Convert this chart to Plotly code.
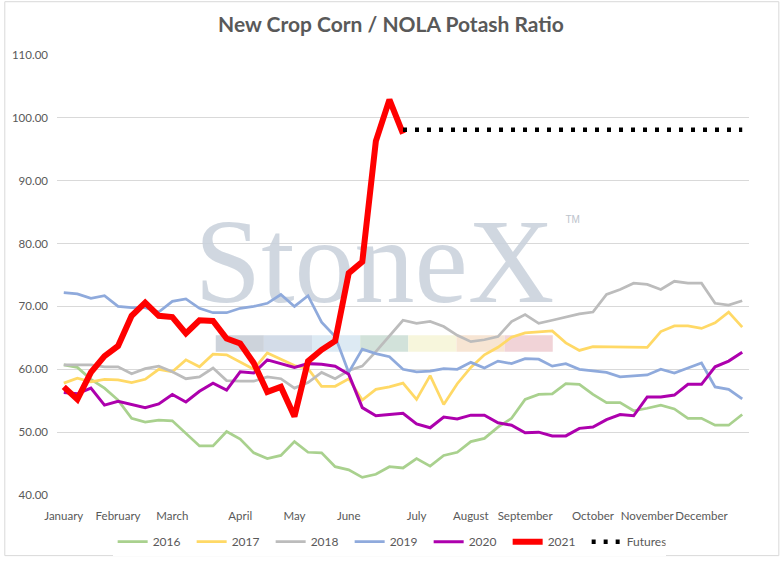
import plotly.graph_objects as go

# * weekly ratio values, 51 weeks per year
weeks = list(range(51))

y2016 = [60.7, 60.3, 58.4, 57.0, 55.1, 52.2, 51.6, 51.9, 51.8, 49.8, 47.8, 47.8, 50.1,
         48.9, 46.7, 45.8, 46.3, 48.5, 46.8, 46.7, 44.5, 44.0, 42.8, 43.3, 44.5,
         44.3, 45.8, 44.6, 46.3, 46.8, 48.5, 49.0, 50.8, 52.2, 55.2, 56.0, 56.1, 57.7,
         57.6, 56.0, 54.7, 54.7, 53.4, 53.8, 54.3, 53.7, 52.2, 52.2, 51.1, 51.1, 52.8]

y2017 = [57.8, 58.6, 58.0, 58.4, 58.3, 57.9, 58.4, 60.0, 59.6, 61.5, 60.4, 62.4, 62.3,
         61.1, 60.0, 62.6, 61.6, 60.6, 60.1, 57.3, 57.3, 58.5, 55.1, 56.8, 57.2,
         57.8, 55.2, 59.0, 54.4, 57.7, 60.3, 62.3, 63.5, 65.1, 65.8, 66.0, 66.1, 64.2,
         63.0, 63.6, 63.6, 63.6, 63.5, 63.5, 66.0, 66.9, 66.9, 66.5, 67.4, 69.1, 66.7]

y2018 = [60.7, 60.7, 60.7, 60.4, 60.4, 59.3, 60.1, 60.5, 59.6, 58.5, 58.8, 60.2, 58.2,
         58.1, 58.1, 58.8, 58.5, 57.0, 57.9, 59.5, 58.5, 59.8, 60.5, 62.8, 65.3,
         67.8, 67.3, 67.6, 66.8, 65.4, 64.4, 64.7, 65.2, 67.6, 68.7, 67.3, 67.8, 68.3,
         68.8, 69.1, 71.9, 72.7, 73.7, 73.5, 72.7, 74.0, 73.7, 73.7, 70.5, 70.2, 70.9]

y2019 = [72.2, 72.0, 71.3, 71.7, 70.0, 69.8, 69.8, 69.1, 70.8, 71.2, 69.7, 69.0, 69.0,
         69.7, 70.0, 70.5, 71.9, 70.0, 71.7, 67.5, 65.2, 59.5, 63.2, 62.5, 62.0,
         60.0, 59.6, 59.7, 60.1, 60.0, 61.1, 60.2, 61.3, 60.9, 61.7, 61.6, 60.5, 60.9,
         60.0, 59.7, 59.5, 58.8, 58.9, 59.1, 60.0, 59.4, 60.2, 61.0, 57.2, 56.8, 55.3]

y2020 = [56.3, 56.1, 57.0, 54.3, 54.9, 54.4, 53.9, 54.5, 56.0, 54.8, 56.5, 57.8, 56.7,
         59.6, 59.4, 61.5, 60.9, 60.3, 60.9, 60.8, 60.5, 59.2, 53.9, 52.6, 52.8,
         53.0, 51.3, 50.7, 52.4, 52.1, 52.7, 52.7, 51.5, 51.1, 49.9, 50.0, 49.4, 49.4,
         50.6, 50.8, 52.0, 52.8, 52.6, 55.6, 55.6, 55.9, 57.6, 57.6, 60.4, 61.3, 62.7]

y2021 = [57.2, 55.2, 59.5, 62.1, 63.7, 68.5, 70.6, 68.5, 68.3, 65.7, 67.8, 67.7, 64.9,
         64.1, 61.0, 56.4, 57.2, 52.5, 61.3, 63.1, 64.5, 75.3, 77.1, 96.3, 102.9, 97.5] \
        + [None] * 25

futures = [None] * 25 + [98.1] * 26

month_ticks = [0, 4, 8, 13, 17, 21, 26, 30, 34, 39, 43, 47]
month_labels = ["January", "February", "March", "April", "May", "June", "July",
                "August", "September", "October", "November", "December"]

series = [
    ("2016", y2016, "#a9d18e", 2.75),
    ("2017", y2017, "#ffd966", 2.75),
    ("2018", y2018, "#bcbcbc", 2.75),
    ("2019", y2019, "#8faadc", 2.75),
    ("2020", y2020, "#ad00ad", 3),
]

FONT = "Lato"
GREY_TXT = "#595959"

fig = go.Figure()

# * StoneX watermark, drawn first so the lines sit on top
fig.add_trace(go.Scatter(
    x=[22.9], y=[75.5], mode="text", text=["StoneX"],
    textfont=dict(family="Liberation Serif", size=120, color="rgba(200,208,218,0.85)"),
    showlegend=False, hoverinfo="skip",
))
fig.add_trace(go.Scatter(
    x=[37.5], y=[83.6], mode="text", text=["TM"],
    textfont=dict(family="Liberation Sans", size=10, color="#bcc3cc"),
    showlegend=False, hoverinfo="skip",
))

for name, vals, color, lw in series:
    fig.add_trace(go.Scatter(
        x=weeks, y=vals, name=name, mode="lines",
        line=dict(color=color, width=lw),
    ))

fig.add_trace(go.Scatter(
    x=weeks, y=y2021, name="2021", mode="lines",
    line=dict(color="#ff0000", width=6),
))
fig.add_trace(go.Scatter(
    x=weeks, y=futures, name="Futures", mode="lines",
    line=dict(color="#000000", width=4.5, dash="4px,8px"),
))

# * coloured strip under the logo
band_colors = ["#cdd3db", "#d3dce8", "#ddeaf3", "#d2e2da", "#f7f6dc", "#f7e5d3", "#f1d3d7"]
band_x0, band_w = 11.2, 3.548
shapes = []
for i, c in enumerate(band_colors):
    shapes.append(dict(
        type="rect", xref="x", yref="y", layer="below",
        x0=band_x0 + i * band_w, x1=band_x0 + (i + 1) * band_w, y0=62.8, y1=65.4,
        fillcolor=c, line=dict(width=0),
    ))
# * chart area border
shapes.append(dict(
    type="rect", xref="paper", yref="paper",
    x0=-52.5 / 696, x1=726 / 696, y0=-62 / 450, y1=504.5 / 450,
    line=dict(color="#d9d9d9", width=1), fillcolor="rgba(0,0,0,0)",
))

fig.update_layout(
    width=782,
    height=568,
    margin=dict(l=53, r=33, t=55, b=63),
    paper_bgcolor="white",
    plot_bgcolor="white",
    font=dict(family=FONT, size=12, color=GREY_TXT),
    title=dict(
        text="<b>New Crop Corn / NOLA Potash Ratio</b>",
        x=0.5, xanchor="center", y=1 - 25 / 568, yanchor="middle",
        font=dict(family=FONT, size=21, color=GREY_TXT),
    ),
    showlegend=True,
    legend=dict(
        orientation="h", x=0.48, xanchor="center", y=-0.106, yanchor="middle",
        font=dict(family=FONT, size=12, color=GREY_TXT),
        entrywidth=34, entrywidthmode="pixels",
        traceorder="normal",
    ),
    shapes=shapes,
    hovermode=False,
)

fig.update_xaxes(
    range=[-0.5, 50.5], tickangle=0,
    tickmode="array", tickvals=month_ticks, ticktext=month_labels,
    showgrid=False, zeroline=False, showline=False, ticks="",
    ticklabelstandoff=12,
    tickfont=dict(family=FONT, size=11.5, color=GREY_TXT),
)
fig.update_yaxes(
    range=[40, 110], dtick=10, tickformat=".2f",
    showgrid=True, gridcolor="#d9d9d9", gridwidth=1,
    zeroline=False, showline=False, ticks="",
    ticklabelstandoff=8,
    tickfont=dict(family=FONT, size=11.5, color=GREY_TXT),
)

# * drop the default body margin so the figure fills the window exactly
fig.write_html("out.html", post_script="document.body.style.margin='0px';",
               config={"displayModeBar": False})
